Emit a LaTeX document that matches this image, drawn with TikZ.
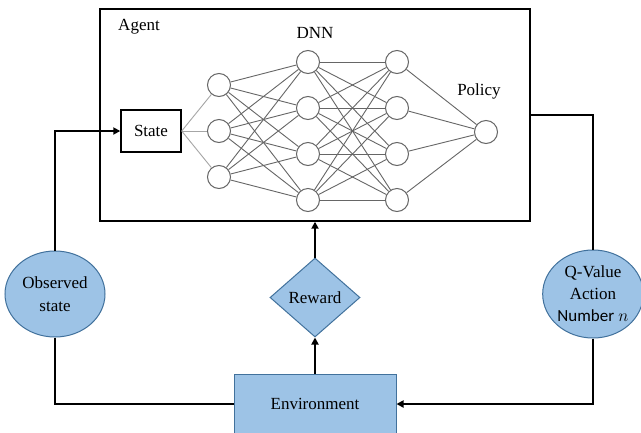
\documentclass[tikz,border=0pt]{standalone}
\usepackage{fontspec}
\setmainfont{Liberation Serif}
\newfontfamily\calibrifont{Carlito}
\usetikzlibrary{arrows.meta,shapes.geometric}
\definecolor{boxblue}{HTML}{9DC3E6}
\definecolor{edgeblue}{HTML}{41719C}
\tikzset{
  neuron/.style={circle,draw=black!60,fill=white,line width=1pt,minimum size=23pt,inner sep=0pt},
  nnlink/.style={draw=black!60,line width=0.9pt},
  inlink/.style={draw=black!35,line width=0.9pt},
  bluebox/.style={fill=boxblue,draw=edgeblue,line width=1pt,align=center},
  flow/.style={line width=1.8pt},
  tip/.style={-{Triangle[length=7pt,width=7pt]}}
}
\begin{document}
\begin{tikzpicture}[x=1pt,y=-1pt,font=\fontsize{17}{23}\selectfont]
			\clip (0,0) rectangle (641,432);
			\fill[white] (0,0) rectangle (641,432);
			
			\node[draw,line width=1.4pt,minimum width=430pt,minimum height=212pt] (agent) at (315,115) {};
			\node (agentlabel) at (139,27) {Agent};
			\node (dnn) at (315,33) {DNN};
			\node (policy) at (479,91) {Policy};
			\node[draw,line width=1.4pt,minimum width=60pt,minimum height=42pt] (state) at (151,131) {State};
			
			\foreach \i/\y in {1/85,2/131,3/177}
				\node[neuron] (l1-\i) at (219,\y) {};
			\foreach \i/\y in {1/62,2/108,3/154,4/200}{
				\node[neuron] (l2-\i) at (308,\y) {};
				\node[neuron] (l3-\i) at (397,\y) {};
			}
			\node[neuron] (out) at (486,132) {};
			
			\foreach \i in {1,2,3}
				\draw[inlink] (state.east) -- (l1-\i);
			\foreach \i in {1,2,3}
				\foreach \j in {1,2,3,4}
					\draw[nnlink] (l1-\i) -- (l2-\j);
			\foreach \i in {1,2,3,4}
				\foreach \j in {1,2,3,4}
					\draw[nnlink] (l2-\i) -- (l3-\j);
			\foreach \j in {1,2,3,4}
				\draw[nnlink] (l3-\j) -- (out);
			
			\node[bluebox,ellipse,minimum width=100pt,minimum height=86pt,inner sep=0pt] (obs) at (55,294) {Observed\\state};
			\node[bluebox,diamond,minimum width=90pt,minimum height=79pt,inner sep=1pt] (reward) at (315,297.5) {Reward};
			\node[bluebox,ellipse,minimum width=98pt,minimum height=88pt,inner sep=0pt,font=\fontsize{17}{22}\selectfont] (qval) at (593,294) {Q-Value\\Action\\{\calibrifont Number} $n$};
			\node[bluebox,minimum width=162pt,minimum height=60pt] (env) at (315,404) {Environment};
			
			\draw[flow,tip] (obs.north) |- (state.west);
			\draw[flow] (obs.south) |- (env.west);
			\draw[flow] (agent.east) -| (qval.north);
			\draw[flow,tip] (qval.south) |- (env.east);
			\draw[flow,tip] (env.north) -- (reward.south);
			\draw[flow,tip] (reward.north) -- (agent.south);
		\end{tikzpicture}
\end{document}
